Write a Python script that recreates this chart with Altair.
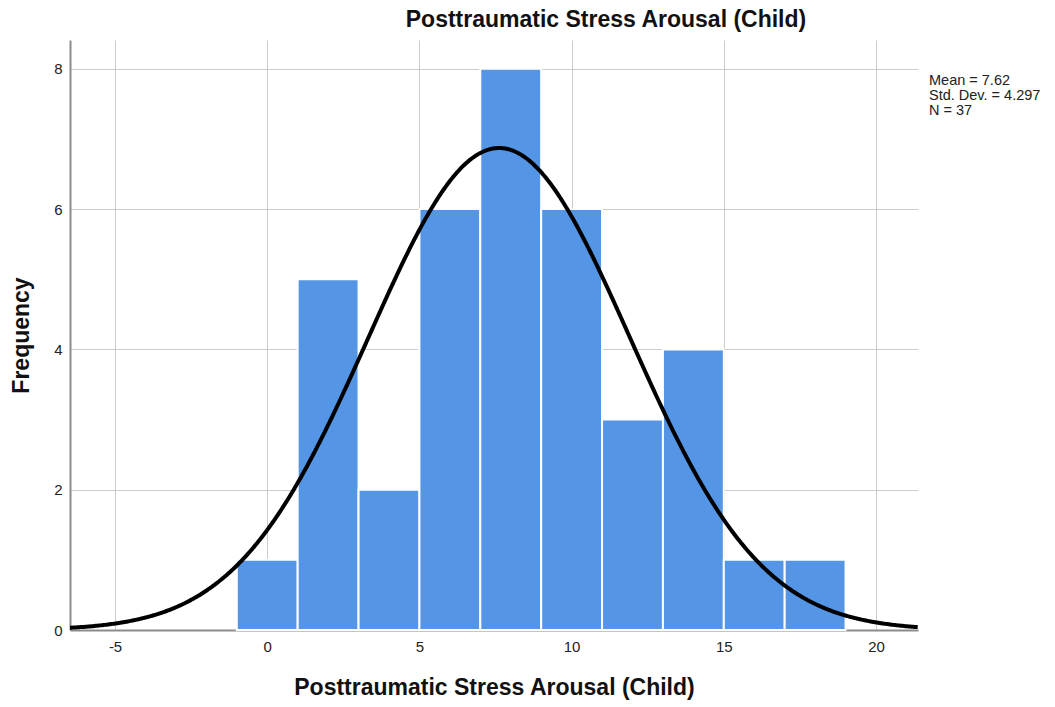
import altair as alt
import pandas as pd

# Histogram bins (width 2) and their frequencies
bin_start = [-1, 1, 3, 5, 7, 9, 11, 13, 15, 17]
bin_end = [1, 3, 5, 7, 9, 11, 13, 15, 17, 19]
frequency = [1, 5, 2, 6, 8, 6, 3, 4, 1, 1]

# Summary statistics shown beside the plot
MEAN = 7.62
SD = 4.297
N = 37
BIN_WIDTH = 2

X_MIN, X_MAX = -6.48, 21.38
Y_MAX = 8.41

x_ticks = [-5, 0, 5, 10, 15, 20]
y_ticks = [0, 2, 4, 6, 8]

FONT = "Liberation Sans"
TITLE = "Posttraumatic Stress Arousal (Child)"

bars_df = pd.DataFrame({"start": bin_start, "end": bin_end, "count": frequency})
stats_text = f"Mean = {MEAN}\nStd. Dev. = {SD}\nN = {N}"

x_scale = alt.Scale(domain=[X_MIN, X_MAX], nice=False, zero=False)
y_scale = alt.Scale(domain=[0, Y_MAX], nice=False)

common_axis = dict(
    grid=True, gridColor="#cccccc", gridWidth=1, ticks=False,
    domainColor="#8c8c8c", domainWidth=2,
    labelFont=FONT, labelFontSize=15, labelColor="#222222",
    labelExpr="'' + datum.value",
    titleFont=FONT, titleFontSize=23, titleFontWeight="bold", titleColor="#111111",
)
x_axis = alt.Axis(values=x_ticks, title=TITLE, labelPadding=9, titlePadding=22, **common_axis)
y_axis = alt.Axis(values=y_ticks, title="Frequency", labelPadding=8, titlePadding=20, **common_axis)

bars = alt.Chart(bars_df).mark_rect(
    color="#5595e5", stroke="white", strokeWidth=2
).encode(
    x=alt.X("start:Q", scale=x_scale, axis=x_axis),
    x2="end:Q",
    y=alt.Y("count:Q", scale=y_scale, axis=y_axis),
    y2=alt.datum(0),
)

# Normal curve scaled to counts: N * bin width * density
curve = alt.Chart(alt.sequence(X_MIN, X_MAX + 0.01, 0.05, as_="x")).transform_calculate(
    y=f"{N * BIN_WIDTH} * densityNormal(datum.x, {MEAN}, {SD})"
).mark_line(color="black", strokeWidth=4, clip=True).encode(
    x=alt.X("x:Q", scale=x_scale),
    y=alt.Y("y:Q", scale=y_scale),
)

stats = alt.Chart(pd.DataFrame({"t": [stats_text]})).mark_text(
    align="left", baseline="alphabetic", font=FONT, fontSize=14.5, color="#222222",
    lineBreak="\n", lineHeight=15,
).encode(
    x=alt.value(859),
    y=alt.value(45),
    text="t:N",
)

chart = alt.layer(bars, curve, stats).properties(
    width=848,
    height=590,
    autosize=alt.AutoSizeParams(type="none"),
    padding={"left": 70, "top": 40, "right": 137, "bottom": 77},
    title=alt.TitleParams(TITLE, font=FONT, fontSize=23, fontWeight="bold",
                          color="#111111", anchor="middle", dx=112, offset=8),
).configure_view(stroke=None)

chart.save("out.html", embed_options={"renderer": "svg", "actions": False})
